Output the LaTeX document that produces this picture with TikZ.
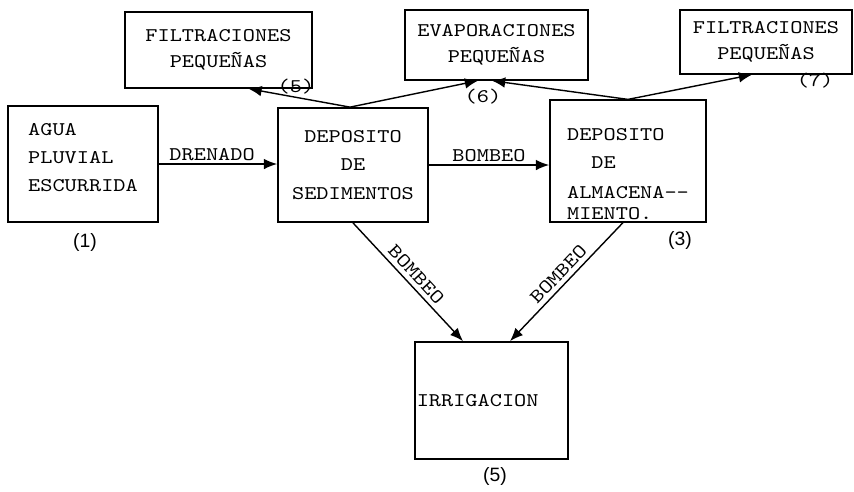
\documentclass[tikz,border=0pt]{standalone}
\usepackage{fontspec}
\setmonofont[FakeStretch=1.2]{Latin Modern Mono}
\newfontfamily\numfont{Liberation Sans}
\usetikzlibrary{arrows.meta}

\begin{document}
\begin{tikzpicture}[x=0.02cm,y=-0.02cm,
  caja/.style={draw,line width=1pt,inner sep=1pt,font=\ttfamily\fontsize{11}{16}\selectfont},
  cajita/.style={draw,line width=0.8pt,inner sep=1pt,align=center,font=\ttfamily\fontsize{11}{15}\selectfont},
  flecha/.style={line width=0.8pt,-{Latex[length=7.5pt,width=6pt]}},
  rotulo/.style={font=\ttfamily\fontsize{11}{14}\selectfont,inner sep=1.5pt},
  numero/.style={font=\numfont\fontsize{11}{13}\selectfont},
  numtt/.style={font=\ttfamily\fontsize{11}{13}\selectfont}]
\useasboundingbox (0,0) rectangle (854,491);
% cajas de arriba
\node[cajita,minimum width=3.74cm,minimum height=1.52cm] (filt1) at (218.5,50) {FILTRACIONES\\PEQUEÑAS};
\node[cajita,minimum width=3.66cm,minimum height=1.4cm] (evap) at (496.5,45) {EVAPORACIONES\\PEQUEÑAS};
\node[cajita,minimum width=3.44cm,minimum height=1.28cm] (filt2) at (766,42) {FILTRACIONES\\PEQUEÑAS};
% cajas principales
\node[caja,align=left,minimum width=3cm,minimum height=2.32cm] (agua) at (83,164) {AGUA\\PLUVIAL\\ESCURRIDA\rule[-7pt]{0pt}{0pt}};
\node[caja,align=center,minimum width=3cm,minimum height=2.28cm] (sed) at (353,165) {DEPOSITO\\DE\\SEDIMENTOS};
\node[caja,align=left,minimum width=3.12cm,minimum height=2.36cm] (alm) at (628,161) {\rule{0pt}{22pt}DEPOSITO\\\phantom{XX}DE\\[1pt]ALMACENA--\\[-4pt]MIENTO.};
\node[caja,align=left,text width=2.99cm,minimum height=2.34cm] (irr) at (491.5,400.5) {IRRIGACION};
% numeros
\node[numero] (n1) at (85,242) {(1)};
\node[numero] (n3) at (680,240) {(3)};
\node[numero] (n5) at (495,476) {(5)};
\node[numtt] (t5) at (296,87) {(5)};
\node[numtt] (t6) at (483,97) {(6)};
\node[numtt] (t7) at (815,81) {(7)};
% flechas
\draw[flecha] (agua.east) -- (agua.east -| sed.west) node[rotulo,pos=0.45,above] {DRENADO};
\draw[flecha] (sed.east) -- (sed.east -| alm.west) node[rotulo,midway,above] {BOMBEO};
\draw[flecha] ([xshift=-0.06cm]sed.north) -- ([xshift=0.6cm]filt1.south);
\draw[flecha] ([xshift=-0.06cm]sed.north) -- ([xshift=-0.37cm]evap.south);
\draw[flecha] (alm.north) -- ([xshift=-0.09cm]evap.south);
\draw[flecha] (alm.north) -- ([xshift=-0.28cm]filt2.south);
\draw[flecha] (sed.south) -- ([xshift=-0.57cm]irr.north) node[rotulo,midway,sloped,above=1pt] {BOMBEO};
\draw[flecha] ([xshift=-0.1cm]alm.south) -- ([xshift=0.37cm]irr.north) node[rotulo,midway,sloped,above=1pt] {BOMBEO};
\end{tikzpicture}
\end{document}
